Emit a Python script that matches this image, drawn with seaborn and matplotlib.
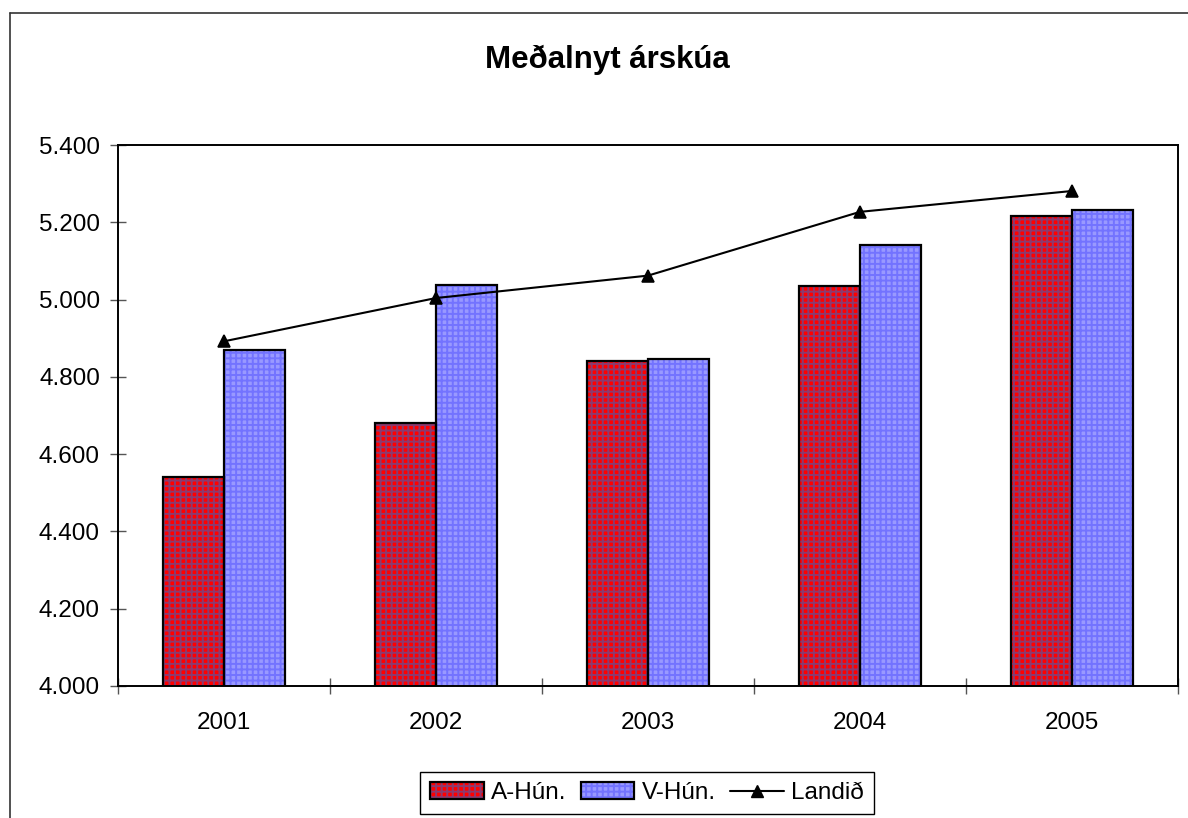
import numpy as np
import pandas as pd
import matplotlib.pyplot as plt
import seaborn as sns
from matplotlib.lines import Line2D
from matplotlib.patches import Patch, Rectangle
from matplotlib.legend_handler import HandlerTuple
from matplotlib.ticker import FuncFormatter, MultipleLocator, FixedLocator

# ------------------------------------------------------------
# DATA
# ------------------------------------------------------------
years = ['2001', '2002', '2003', '2004', '2005']
a_hun = [4540, 4680, 4840, 5036, 5217]
v_hun = [4870, 5038, 4846, 5140, 5233]
landid = [4892, 5004, 5062, 5227, 5281]
series_names = ['A-Hún.', 'V-Hún.', 'Landið']

bar_colors = ['#ff0000', '#9999ff']
hatch_colors = ['#8c3a6e', '#7373ff']
hatch_patterns = ['+++', '+++']

df = pd.DataFrame({
    'Ár': years * 2,
    'Meðalnyt': a_hun + v_hun,
    'Svæði': [series_names[0]] * len(years) + [series_names[1]] * len(years),
})

# ------------------------------------------------------------
# STYLE
# ------------------------------------------------------------
sns.set_theme(style='white')
plt.rcParams['font.family'] = ['Liberation Sans', 'DejaVu Sans']
plt.rcParams['text.color'] = 'black'
plt.rcParams['hatch.linewidth'] = 1.4

fig = plt.figure(figsize=(11.88, 8.18), dpi=100)
ax = fig.add_axes([118 / 1188, 1 - 686 / 818, (1178 - 118) / 1188, (686 - 145) / 818])

# Bars
sns.barplot(data=df, x='Ár', y='Meðalnyt', hue='Svæði', palette=bar_colors,
            width=0.575, saturation=1, linewidth=0, errorbar=None,
            legend=False, ax=ax)

for cont, hc, hp in zip(ax.containers, hatch_colors, hatch_patterns):
    for bar in cont:
        bar.set_hatch(hp)
        bar.set_edgecolor(hc)
        bar.set_linewidth(0)
        ax.add_patch(Rectangle(bar.get_xy(), bar.get_width(), bar.get_height(),
                               fill=False, ec='black', lw=1.6, zorder=bar.get_zorder() + 0.1))

# Line for Landið
sns.pointplot(x=years, y=landid, color='black', markers='^', linestyles='-',
              markersize=9, linewidth=1.5, errorbar=None, ax=ax, zorder=5)

# Axes
ax.set_xlim(-0.5, len(years) - 0.5)
ax.set_ylim(4000, 5400)
ax.yaxis.set_major_locator(MultipleLocator(200))
ax.yaxis.set_major_formatter(FuncFormatter(lambda v, p: f'{v:,.0f}'.replace(',', '.')))
ax.set_xticks(range(len(years)))
ax.set_xticklabels(years)
ax.xaxis.set_minor_locator(FixedLocator(np.arange(-0.5, len(years), 1)))
ax.set_xlabel('')
ax.set_ylabel('')

ax.tick_params(axis='x', which='major', length=0, pad=19, labelsize=17.5, labelcolor='black')
ax.tick_params(axis='x', which='minor', length=11.5, width=1, direction='inout',
               color='#555555', bottom=True)
ax.tick_params(axis='y', which='major', length=12, width=1, direction='inout',
               color='#555555', pad=7, labelsize=17.5, labelcolor='black', left=True)

for s in ax.spines.values():
    s.set_visible(True)
    s.set_color('black')
    s.set_linewidth(1.4)

# Title
fig.text(607 / 1188, 1 - 60 / 818, 'Meðalnyt árskúa', ha='center', va='center',
         fontsize=22.5, fontweight='bold', color='black')

# Legend
handles = [
    (Patch(facecolor=bar_colors[0], edgecolor=hatch_colors[0], hatch=hatch_patterns[0], linewidth=0),
     Patch(fill=False, edgecolor='black', linewidth=1.6)),
    (Patch(facecolor=bar_colors[1], edgecolor=hatch_colors[1], hatch=hatch_patterns[1], linewidth=0),
     Patch(fill=False, edgecolor='black', linewidth=1.6)),
    Line2D([], [], color='black', marker='^', markersize=9, linewidth=1.5),
]
leg = fig.legend(handles, series_names, loc='center', ncol=3,
                 bbox_to_anchor=(647 / 1188, 1 - 793 / 818),
                 handler_map={tuple: HandlerTuple(ndivide=1, pad=0)},
                 fontsize=17.5, frameon=True, fancybox=False, framealpha=1,
                 edgecolor='black', handlelength=2.2, handleheight=0.65,
                 handletextpad=0.3, columnspacing=0.6, borderpad=0.4)
leg.get_frame().set_linewidth(1)
for t in leg.get_texts():
    t.set_color('black')

# Outer chart frame (partially visible in the reference)
fig.add_artist(Line2D([10 / 1188, 1], [1 - 13 / 818, 1 - 13 / 818], color='#333333', lw=1.2))
fig.add_artist(Line2D([10 / 1188, 10 / 1188], [0, 1 - 13 / 818], color='#333333', lw=1.2))

plt.savefig('out.png', dpi=100)
